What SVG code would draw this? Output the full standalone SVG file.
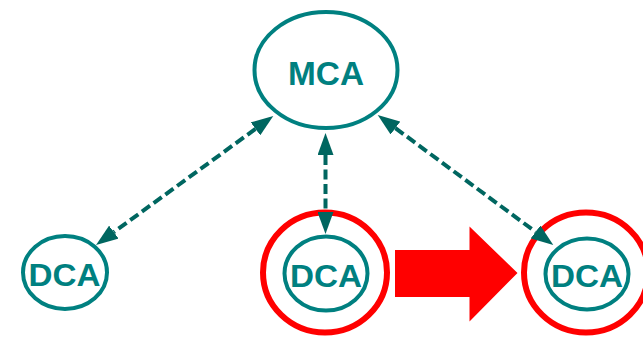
<svg xmlns="http://www.w3.org/2000/svg" width="643" height="337" viewBox="0 0 643 337">
<style>
.node{fill:none;stroke:#008080;stroke-width:4}
.hl{fill:none;stroke:#ff0000;stroke-width:6}
.lbl{font-family:"Liberation Sans",Arial,sans-serif;font-weight:bold;fill:#008080;text-anchor:middle}
.conn{stroke:#006660;stroke-width:4;stroke-dasharray:10,4.5;fill:none;marker-start:url(#ah);marker-end:url(#ah)}
</style>
<defs>
<marker id="ah" markerUnits="userSpaceOnUse" markerWidth="22" markerHeight="16" refX="0" refY="8" orient="auto-start-reverse" viewBox="0 0 22 16">
<path d="M0,0 L22,8 L0,16 z" fill="#006660"/>
</marker>
</defs>
<rect width="643" height="337" fill="#ffffff"/>
<g id="mca">
<ellipse class="node" cx="326" cy="70" rx="71.5" ry="58"/>
<text class="lbl" x="326" y="84.5" font-size="34" textLength="76" lengthAdjust="spacingAndGlyphs">MCA</text>
</g>
<g id="dca1">
<ellipse class="node" cx="65" cy="272.5" rx="42" ry="36.5"/>
<text class="lbl" x="64.5" y="285.7" font-size="31" textLength="72" lengthAdjust="spacingAndGlyphs">DCA</text>
</g>
<g id="dca2">
<ellipse class="hl" cx="325" cy="272.5" rx="62" ry="60"/>
<ellipse class="node" cx="326" cy="273.5" rx="41.5" ry="37"/>
<text class="lbl" x="326" y="286.7" font-size="31" textLength="72" lengthAdjust="spacingAndGlyphs">DCA</text>
</g>
<g id="dca3">
<ellipse class="hl" cx="586" cy="272.5" rx="62" ry="60"/>
<ellipse class="node" cx="587" cy="274" rx="41.5" ry="35.5"/>
<text class="lbl" x="587" y="286.7" font-size="31" textLength="72" lengthAdjust="spacingAndGlyphs">DCA</text>
</g>
<g id="move-arrow">
<polygon points="395,250 469.5,250 469.5,226.5 517.5,273 469.5,321.5 469.5,297 395,297" fill="#ff0000"/>
</g>
<g id="connectors">
<line class="conn" x1="255.5" y1="128.9" x2="113.8" y2="232.1"/>
<line class="conn" x1="325.5" y1="155" x2="325.5" y2="212"/>
<line class="conn" x1="395.4" y1="128.1" x2="535.6" y2="231.9"/>
</g>
</svg>
